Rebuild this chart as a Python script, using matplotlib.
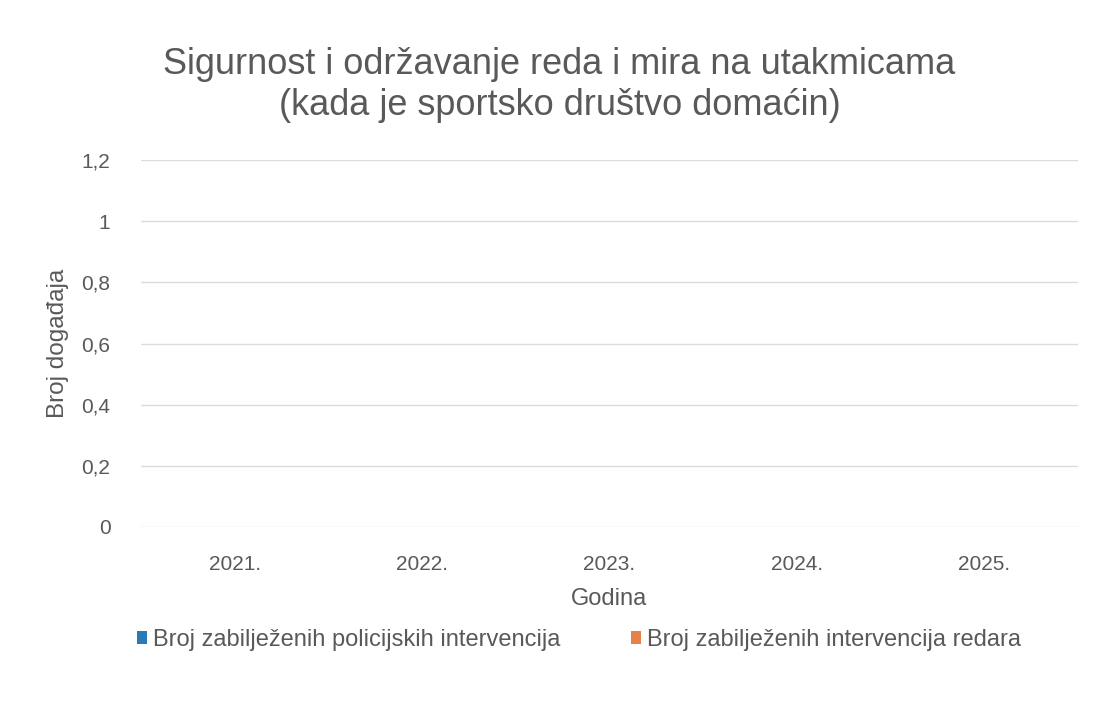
import matplotlib.pyplot as plt
import numpy as np

godine = ['2021.', '2022.', '2023.', '2024.', '2025.']
policija = [0, 0, 0, 0, 0]
redari = [0, 0, 0, 0, 0]
y_ticks = [0, 0.2, 0.4, 0.6, 0.8, 1, 1.2]
y_labels = ['0', '0,2', '0,4', '0,6', '0,8', '1', '1,2']

siva = '#595959'
plt.rcParams['font.family'] = ['Liberation Sans', 'DejaVu Sans']

fig = plt.figure(figsize=(10.97, 7.04), dpi=100)
ax = fig.add_axes([0.1285, 0.2515, 0.854, 0.521])

x = np.arange(len(godine))
w = 0.3
ax.bar(x - w / 2, policija, w, color='#2a7ab8', label='Broj zabilježenih policijskih intervencija')
ax.bar(x + w / 2, redari, w, color='#e8804a', label='Broj zabilježenih intervencija redara')

ax.set_xlim(-0.5, len(godine) - 0.5)
ax.set_ylim(0, 1.2)
ax.set_yticks(y_ticks)
ax.set_yticklabels(y_labels)
ax.set_xticks(x)
ax.set_xticklabels(godine)
ax.tick_params(length=0, colors=siva, labelsize=15)
ax.tick_params(axis='y', pad=22)
ax.tick_params(axis='x', pad=20)
ax.yaxis.grid(True, color='#dcdcdc', linewidth=1)
ax.set_axisbelow(True)
for s in ax.spines.values():
    s.set_visible(False)

ax.set_xlabel('Godina', color=siva, fontsize=17, labelpad=10)
ax.set_ylabel('Broj događaja', color=siva, fontsize=17.5, labelpad=9)

fig.text(0.51, 0.879, 'Sigurnost i održavanje reda i mira na utakmicama\n(kada je sportsko društvo domaćin)',
         ha='center', va='center', color=siva, fontsize=26, linespacing=1.2)

fig.legend(loc='center', bbox_to_anchor=(0.528, 0.091), ncol=2, frameon=False,
           fontsize=17, labelcolor=siva, handlelength=0.42, handleheight=0.42,
           handletextpad=0.25, columnspacing=3.0)

fig.savefig('out.png', dpi=100, facecolor='white')
